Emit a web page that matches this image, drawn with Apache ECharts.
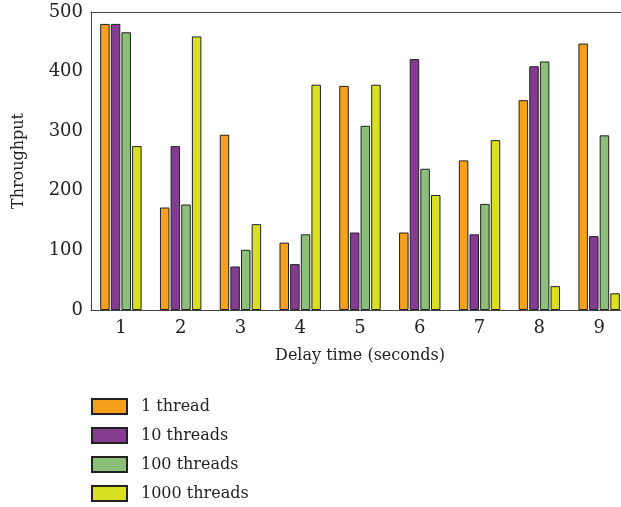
<!DOCTYPE html>
<html>
<head>
<meta charset="utf-8">
<script src="https://cdn.jsdelivr.net/npm/echarts@6/dist/echarts.min.js"></script>
<style>
  html, body { margin: 0; padding: 0; background: #fff; overflow: hidden; }
  /* the plot runs a little past the right edge of the window, as in the source figure */
  #chart { width: 629px; height: 507px; }
</style>
</head>
<body>
<div id="chart"></div>
<script>
// Delay time categories (seconds)
const delays = ['1', '2', '3', '4', '5', '6', '7', '8', '9'];

// Throughput per thread count
const thread1 = [480, 172, 294, 113, 376, 130, 251, 352, 447];
const thread10 = [480, 275, 73, 77, 130, 421, 127, 409, 124];
const thread100 = [466, 177, 101, 127, 309, 237, 178, 417, 293];
const thread1000 = [275, 459, 144, 378, 378, 193, 285, 40, 28];

const seriesNames = ['1 thread', '10 threads', '100 threads', '1000 threads'];
const seriesData = [thread1, thread10, thread100, thread1000];
const colors = ['#F7A01C', '#833C8F', '#8CC07A', '#D8E021'];

const font = 'DejaVu Serif';
const chart = echarts.init(document.getElementById('chart'), null, { renderer: 'canvas' });

const axisColor = '#444';

chart.setOption({
    animation: false,
    textStyle: { fontFamily: font },
    grid: { left: 91, right: 0, top: 12, bottom: 197 },
    legend: {
        orient: 'vertical',
        left: 91,
        top: 398,
        padding: 0,
        itemWidth: 35,
        itemHeight: 15,
        itemGap: 12,
        icon: 'rect',
        data: seriesNames,
        textStyle: { fontFamily: font, fontSize: 16, color: '#222', padding: [0, 0, 0, 9] }
    },
    xAxis: [{
        type: 'category',
        data: delays,
        name: 'Delay time (seconds)',
        nameLocation: 'middle',
        nameGap: 38,
        nameTextStyle: { fontFamily: font, fontSize: 16, color: '#222' },
        axisLine: { lineStyle: { color: axisColor, width: 1 } },
        axisTick: { inside: true, alignWithLabel: true, length: 6, lineStyle: { color: axisColor } },
        axisLabel: { fontFamily: font, fontSize: 18, color: '#222', margin: 9 }
    }, {
        type: 'category',
        data: delays,
        position: 'top',
        axisLine: { lineStyle: { color: axisColor, width: 1 } },
        axisTick: { inside: true, alignWithLabel: true, length: 6, lineStyle: { color: axisColor } },
        axisLabel: { show: false }
    }],
    yAxis: {
        type: 'value',
        min: 0,
        max: 500,
        interval: 100,
        name: 'Throughput',
        nameLocation: 'middle',
        nameGap: 64,
        nameTextStyle: { fontFamily: font, fontSize: 16, color: '#222' },
        axisLine: { show: true, lineStyle: { color: axisColor, width: 1 } },
        axisTick: { show: false },
        splitLine: { show: false },
        axisLabel: { fontFamily: font, fontSize: 18, color: '#222', margin: 8 }
    },
    series: seriesNames.map((name, i) => ({
        name: name,
        type: 'bar',
        data: seriesData[i],
        barWidth: 9.5,
        barGap: '12%',
        itemStyle: { color: colors[i], borderColor: '#222', borderWidth: 1 }
    }))
});
</script>
</body>
</html>
